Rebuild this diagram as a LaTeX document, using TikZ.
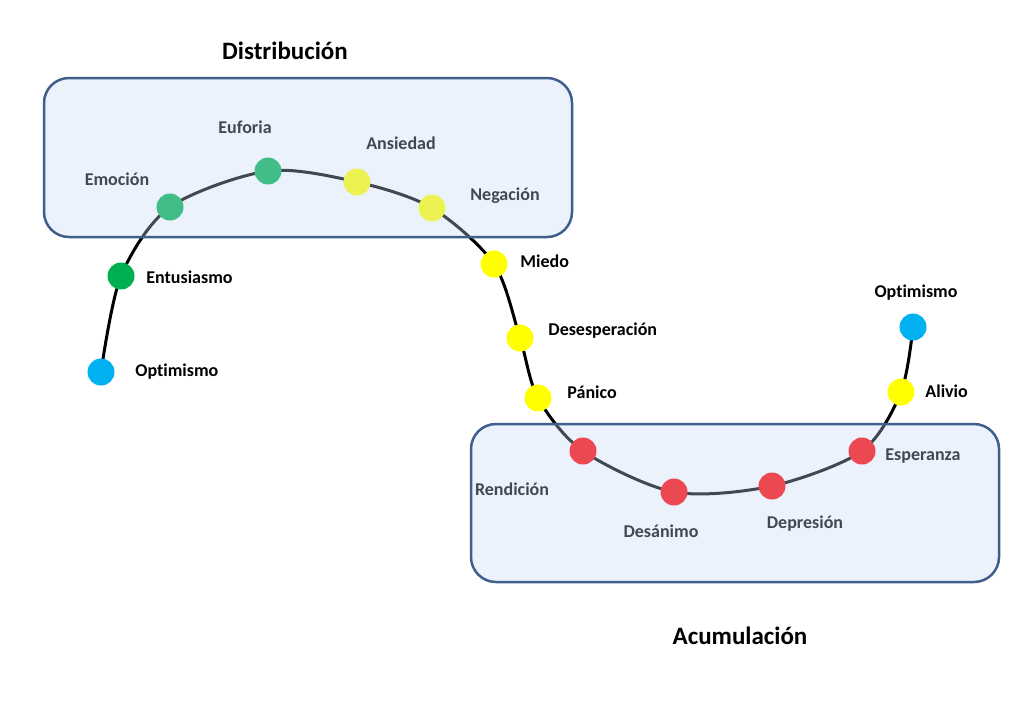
\documentclass[tikz,border=0pt]{standalone}
\usepackage{fontspec}
\setmainfont{Carlito}[Ligatures=NoCommon]

\definecolor{optblue}{RGB}{0,176,240}
\definecolor{entgreen}{RGB}{0,176,80}
\definecolor{fearyellow}{RGB}{255,255,0}
\definecolor{lossred}{RGB}{255,0,0}
\definecolor{zoneline}{RGB}{63,94,140}
\definecolor{zonefill}{RGB}{195,216,246}

\begin{document}
\begin{tikzpicture}[x=0.5pt, y=-0.5pt,
  dot/.style={circle, inner sep=0pt, minimum size=13.5pt},
  tag/.style={font=\fontsize{9}{11}\selectfont\bfseries, inner sep=0pt},
  heading/.style={font=\fontsize{12.5}{15}\selectfont\bfseries, inner sep=0pt},
  zone/.style={draw=zoneline, line width=1.25pt, fill=zonefill, fill opacity=0.333, rounded corners=12.5pt}]

\useasboundingbox (0,0) rectangle (1020,707);

% points of the cycle
\coordinate (c1) at (101,372);
\coordinate (c2) at (121,276);
\coordinate (c3) at (170,207);
\coordinate (c4) at (268,171);
\coordinate (c5) at (357,182);
\coordinate (c6) at (432,208);
\coordinate (c7) at (494,264);
\coordinate (c8) at (520,338);
\coordinate (c9) at (538,398);
\coordinate (c10) at (583,451);
\coordinate (c11) at (674,492);
\coordinate (c12) at (772,486);
\coordinate (c13) at (862,451);
\coordinate (c14) at (901,392);
\coordinate (c15) at (913,327);

\draw[line width=1.5pt] plot[smooth] coordinates {(c1) (c2) (c3) (c4) (c5) (c6) (c7) (c8) (c9) (c10) (c11) (c12) (c13) (c14) (c15)};

\node[dot, fill=optblue] (optA) at (c1) {};
\node[dot, fill=entgreen] (entus) at (c2) {};
\node[dot, fill=entgreen] (emoc) at (c3) {};
\node[dot, fill=entgreen] (eufor) at (c4) {};
\node[dot, fill=fearyellow] (ansie) at (c5) {};
\node[dot, fill=fearyellow] (negac) at (c6) {};
\node[dot, fill=fearyellow] (miedo) at (c7) {};
\node[dot, fill=fearyellow] (desesp) at (c8) {};
\node[dot, fill=fearyellow] (panic) at (c9) {};
\node[dot, fill=lossred] (rendic) at (c10) {};
\node[dot, fill=lossred] (desan) at (c11) {};
\node[dot, fill=lossred] (depre) at (c12) {};
\node[dot, fill=lossred] (esper) at (c13) {};
\node[dot, fill=fearyellow] (alivio) at (c14) {};
\node[dot, fill=optblue] (optB) at (c15) {};

% labels
\node[tag, anchor=west] (l-optA) at (135,372) {Optimismo};
\node[tag, anchor=west] (l-entus) at (146,277) {Entusiasmo};
\node[tag] (l-emoc) at (117,179) {Emoción};
\node[tag] (l-eufor) at (245,127) {Euforia};
\node[tag] (l-ansie) at (401,143) {Ansiedad};
\node[tag] (l-negac) at (505,196) {Negación};
\node[tag, anchor=west] (l-miedo) at (520,261) {Miedo};
\node[tag, anchor=west] (l-desesp) at (548,331) {Desesperación};
\node[tag, anchor=west] (l-panic) at (567,392) {Pánico};
\node[tag] (l-rendic) at (512,489) {Rendición};
\node[tag] (l-desan) at (661,531) {Desánimo};
\node[tag] (l-depre) at (805,524) {Depresión};
\node[tag, anchor=west] (l-esper) at (885,456) {Esperanza};
\node[tag, anchor=west] (l-alivio) at (925,391) {Alivio};
\node[tag] (l-optB) at (916,293) {Optimismo};

% phases
\draw[zone] (44,78) rectangle (572,237);
\draw[zone] (471,424) rectangle (999,582);

\node[heading] (t-dist) at (285,51) {Distribución};
\node[heading] (t-acum) at (740,636) {Acumulación};

\end{tikzpicture}
\end{document}
